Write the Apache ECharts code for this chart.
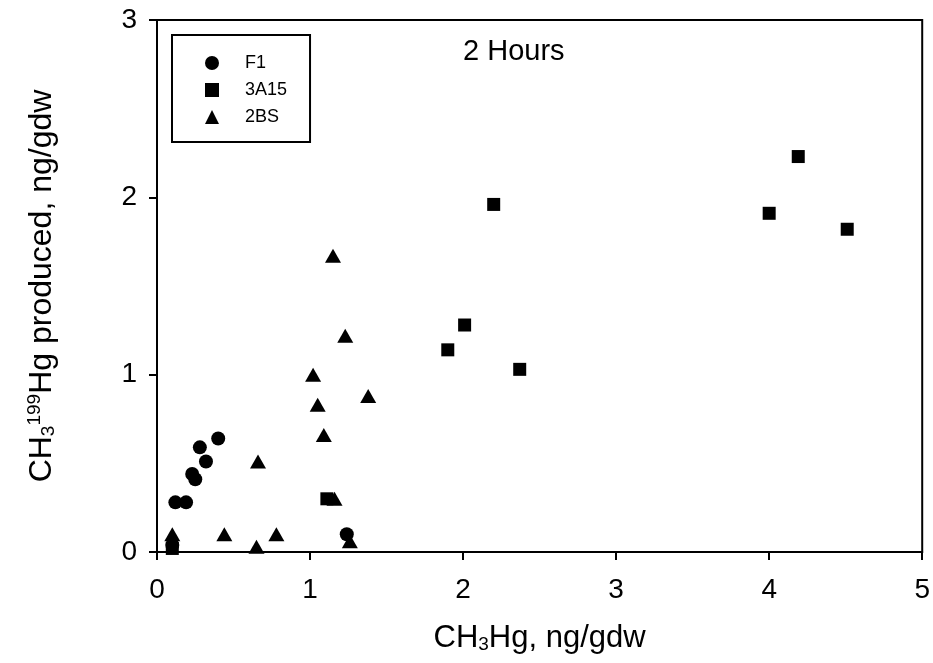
<!DOCTYPE html>
<html>
<head>
<meta charset="utf-8">
<script src="https://cdn.jsdelivr.net/npm/echarts@6/dist/echarts.min.js"></script>
<style>
html,body{margin:0;padding:0;background:#fff;}
#chart{width:933px;height:663px;}
</style>
</head>
<body>
<div id="chart"></div>
<script>
var xTicks = [0, 1, 2, 3, 4, 5];
var yTicks = [0, 1, 2, 3];
var seriesNames = ['F1', '3A15', '2BS'];
var f1Data = [
  [0.40, 0.64], [0.28, 0.59], [0.32, 0.51], [0.23, 0.44], [0.25, 0.41],
  [0.12, 0.28], [0.19, 0.28], [0.10, 0.04], [1.24, 0.10]
];
var a3a15Data = [
  [0.10, 0.02], [1.11, 0.30], [1.90, 1.14], [2.01, 1.28], [2.20, 1.96],
  [2.37, 1.03], [4.00, 1.91], [4.19, 2.23], [4.51, 1.82]
];
var bs2Data = [
  [0.10, 0.10], [0.44, 0.10], [0.65, 0.03], [0.66, 0.51], [0.78, 0.10],
  [1.02, 1.00], [1.05, 0.83], [1.09, 0.66], [1.16, 0.30], [1.15, 1.67],
  [1.23, 1.22], [1.38, 0.88], [1.26, 0.06]
];
var panelLabel = '2 Hours';
var xTitle = 'CH{sub|3}Hg, ng/gdw';
var yTitle = 'CH{sub|3}{sup|199}Hg produced, ng/gdw';

var FONT = '"Liberation Sans", Arial, sans-serif';
var chart = echarts.init(document.getElementById('chart'), null, {renderer: 'canvas'});
var richTitle = {
  sub: {fontSize: 19, fontFamily: FONT, color: '#000', padding: [13, 0, 0, 0]},
  sup: {fontSize: 19, fontFamily: FONT, color: '#000', padding: [0, 0, 15, 0]}
};
chart.setOption({
  animation: false,
  backgroundColor: '#fff',
  textStyle: {fontFamily: FONT, color: '#000'},
  grid: {left: 157, right: 10, top: 20, bottom: 111, show: true, borderColor: '#000', borderWidth: 2},
  xAxis: {
    type: 'value', min: xTicks[0], max: xTicks[xTicks.length - 1], interval: 1,
    axisLine: {onZero: false, lineStyle: {color: '#000', width: 2}},
    axisTick: {inside: false, length: 8, lineStyle: {color: '#000', width: 2}},
    axisLabel: {fontSize: 28, color: '#000', fontFamily: FONT, margin: 24},
    splitLine: {show: false},
    name: xTitle, nameLocation: 'middle', nameGap: 70,
    nameTextStyle: {fontSize: 31, color: '#000', fontFamily: FONT, rich: richTitle}
  },
  yAxis: {
    type: 'value', min: yTicks[0], max: yTicks[yTicks.length - 1], interval: 1,
    axisLine: {onZero: false, lineStyle: {color: '#000', width: 2}},
    axisTick: {inside: false, length: 8, lineStyle: {color: '#000', width: 2}},
    axisLabel: {fontSize: 28, color: '#000', fontFamily: FONT, margin: 20, padding: [8, 0, 0, 0]},
    splitLine: {show: false},
    name: yTitle, nameLocation: 'middle', nameGap: 98,
    nameTextStyle: {fontSize: 32, color: '#000', fontFamily: FONT, rich: richTitle}
  },
  legend: {
    orient: 'vertical', left: 172, top: 35,
    itemWidth: 14, itemHeight: 14, itemGap: 9,
    padding: [19, 23, 16, 33],
    borderColor: '#000', borderWidth: 2,
    textStyle: {fontSize: 18, color: '#000', fontFamily: FONT, padding: [0, 0, 0, 21]},
    data: seriesNames
  },
  graphic: [{
    type: 'text', left: 463, top: 37,
    style: {text: panelLabel, fontSize: 29, fill: '#000', fontFamily: FONT}
  }],
  series: [
    {name: seriesNames[0], type: 'scatter', symbol: 'circle', symbolSize: 14,
     itemStyle: {color: '#000', opacity: 1}, data: f1Data},
    {name: seriesNames[1], type: 'scatter', symbol: 'rect', symbolSize: 13,
     itemStyle: {color: '#000', opacity: 1}, data: a3a15Data},
    {name: seriesNames[2], type: 'scatter', symbol: 'triangle', symbolSize: [16, 14],
     itemStyle: {color: '#000', opacity: 1}, data: bs2Data}
  ]
});
</script>
</body>
</html>
